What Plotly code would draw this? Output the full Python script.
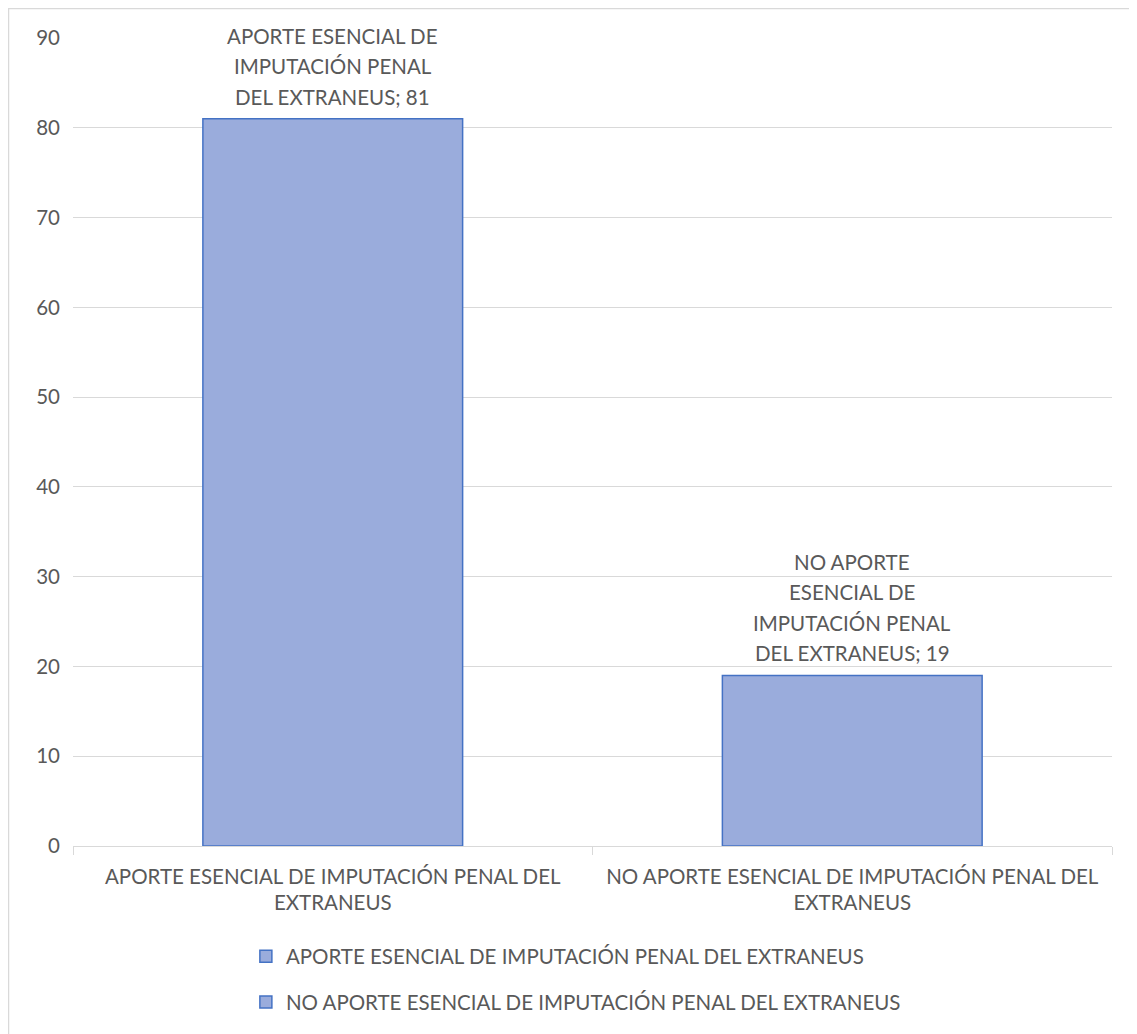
import plotly.graph_objects as go

categories = ["APORTE ESENCIAL DE IMPUTACIÓN PENAL DEL EXTRANEUS",
              "NO APORTE ESENCIAL DE IMPUTACIÓN PENAL DEL EXTRANEUS"]
tick_labels = ["APORTE ESENCIAL DE IMPUTACIÓN PENAL DEL<br>EXTRANEUS",
               "NO APORTE ESENCIAL DE IMPUTACIÓN PENAL DEL<br>EXTRANEUS"]
values = [81, 19]
label_lines = [["APORTE ESENCIAL DE", "IMPUTACIÓN PENAL", "DEL EXTRANEUS; 81"],
               ["NO APORTE", "ESENCIAL DE", "IMPUTACIÓN PENAL", "DEL EXTRANEUS; 19"]]
y_ticks = [0, 10, 20, 30, 40, 50, 60, 70, 80, 90]

FONT = "Lato"
GRAY = "#595959"
FS = 20.5
LINE_H = 30.5
W, H = 1129, 1026
L, R, T, B = 65, 25, 30, 188

fig = go.Figure()
for i, (cat, val) in enumerate(zip(categories, values)):
    fig.add_trace(go.Bar(
        x=[cat], y=[val], name=cat, width=0.5,
        marker=dict(color="#9AACDC", line=dict(color="#4472C4", width=1.5)),
        legendgroup=f"g{i}",
    ))
    lines = label_lines[i]
    for k, line in enumerate(reversed(lines)):
        fig.add_annotation(x=cat, y=val, text=line, showarrow=False,
                           yanchor="middle", yshift=22 + k * LINE_H,
                           font=dict(family=FONT, size=FS, color=GRAY))

pw = W - L - R
ph = H - T - B
fig.add_shape(type="rect", xref="paper", yref="paper",
              x0=(0.5 - L) / pw, x1=(W + 20 - L) / pw,
              y0=-(H + 20 - T - ph) / ph, y1=1 + (T - 0.5) / ph,
              line=dict(color="#D9D9D9", width=1.5), layer="below")

fig.update_layout(
    width=W, height=H,
    margin=dict(l=L, r=R, t=T, b=B),
    barmode="overlay",
    paper_bgcolor="white", plot_bgcolor="white",
    font=dict(family=FONT, size=FS, color=GRAY),
    showlegend=True,
    legend=dict(orientation="v", x=0.484, xanchor="center", y=-0.112, yanchor="top",
                font=dict(family=FONT, size=FS, color=GRAY),
                tracegroupgap=16, itemwidth=30),
    xaxis=dict(type="category", tickmode="array", tickvals=categories, ticktext=tick_labels,
               range=[-0.5, 1.5], showgrid=False,
               showline=True, linecolor="#D9D9D9", linewidth=1,
               ticks="outside", tickson="boundaries", ticklen=8, tickcolor="#D9D9D9",
               ticklabelstandoff=12,
               tickfont=dict(family=FONT, size=FS, color=GRAY)),
    yaxis=dict(range=[0, 90], tickvals=y_ticks, showgrid=True, gridcolor="#D9D9D9",
               gridwidth=1, zeroline=False, ticks="", ticklabelstandoff=12,
               tickfont=dict(family=FONT, size=FS, color=GRAY)),
)

fig.write_html("out.html")
